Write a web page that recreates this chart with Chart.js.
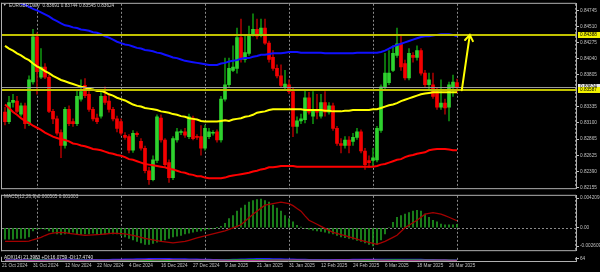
<!DOCTYPE html>
<html>
<head>
<meta charset="utf-8">
<script src="https://cdn.jsdelivr.net/npm/chart.js@4.4.1/dist/chart.umd.min.js"></script>
<style>
html, body { margin: 0; padding: 0; background: #000; }
#cadre { position: relative; width: 600px; height: 272px; background: #000; overflow: hidden; }
canvas { position: absolute; left: 0; }
</style>
</head>
<body>
<div id="cadre">
  <canvas id="prix" width="600" height="192" style="top:0px"></canvas>
  <canvas id="macd" width="600" height="62" style="top:192px"></canvas>
  <canvas id="adx" width="600" height="18" style="top:254px"></canvas>
</div>
<script>
// EURGBP Daily - bougies, moyennes, MACD et ADX

const dateLabels = ['21 Oct 2024', '31 Oct 2024', '12 Nov 2024', '22 Nov 2024', '4 Dec 2024',
    '16 Dec 2024', '27 Dec 2024', '9 Jan 2025', '21 Jan 2025', '31 Jan 2025', '12 Feb 2025',
    '24 Feb 2025', '6 Mar 2025', '18 Mar 2025', '26 Mar 2025'];
const dateIdx = [0, 8, 16, 24, 32, 40, 48, 56, 64, 72, 80, 88, 96, 104, 112];
const gridIdx = [8, 29, 50, 71, 92, 113, 142.5];

const priceTicks = [0.82155, 0.82390, 0.82625, 0.82865, 0.83100, 0.83335,
    0.83805, 0.84040, 0.84275, 0.84510, 0.84745];
const macdTicks = [-0.002609, 0, 0.004209];
const macdTickLabels = ['-0.002609', '0.00', '0.004209'];

const niveaux = [0.84388, 0.83587];
const flecheX = [114.2, 116.2];
const flecheY = [0.8358, 0.8439];

const opens = [
    .8326, .8312, .8340, .8342, .8323, .8335, .8309, .8370, .8436, .8377,
    .8392, .8377, .8327, .8316, .8296, .8277, .8330, .8312, .8309, .8345,
    .8365, .8352, .8330, .8317, .8320, .8349, .8342, .8330, .8316, .8312,
    .8292, .8290, .8270, .8295, .8283, .8273, .8240, .8227, .8255, .8317,
    .8285, .8252, .8230, .8285, .8296, .8297, .8290, .8317, .8290, .8290,
    .8273, .8290, .8295, .8297, .8285, .8345, .8366, .8387, .8390, .8435,
    .8403, .8412, .8440, .8447, .8440, .8449, .8427, .8406, .8390, .8379,
    .8363, .8366, .8356, .8305, .8313, .8315, .8347, .8320, .8330, .8320,
    .8340, .8326, .8335, .8302, .8280, .8277, .8285, .8283, .8289, .8297,
    .8269, .8255, .8255, .8256, .8299, .8363, .8369, .8387, .8409, .8426,
    .8397, .8376, .8409, .8406, .8416, .8383, .8366, .8366, .8356, .8333,
    .8339, .8333, .8362, .83691];
const highs = [
    .8333, .8349, .8352, .8349, .8339, .8339, .8379, .8447, .8442, .8419,
    .8397, .8380, .8330, .8320, .8300, .8333, .8335, .8316, .8359, .8373,
    .8375, .8356, .8333, .8323, .8355, .8363, .8352, .8333, .8320, .8316,
    .8296, .8293, .8299, .8297, .8287, .8276, .8245, .8262, .8322, .8322,
    .8287, .8256, .8290, .8302, .8300, .8302, .8323, .8320, .8293, .8306,
    .8307, .8302, .8299, .8300, .8349, .8405, .8405, .8423, .8449, .8462,
    .8437, .8452, .8470, .8462, .8462, .8462, .8430, .8416, .8395, .8395,
    .8387, .8373, .8362, .8319, .8323, .8359, .8355, .8356, .8352, .8352,
    .8356, .8340, .8339, .8305, .8287, .8290, .8290, .8295, .8302, .8300,
    .8273, .8262, .8273, .8305, .8366, .8412, .8416, .8423, .8449, .8440,
    .8402, .8419, .8413, .8423, .8419, .8387, .8383, .8383, .8362, .8373,
    .8345, .8370, .8380, .83744];
const lows = [
    .8307, .8309, .8333, .8325, .8320, .8302, .8306, .8367, .8352, .8375,
    .8375, .8325, .8309, .8292, .8259, .8273, .8306, .8305, .8306, .8342,
    .8347, .8327, .8313, .8309, .8317, .8337, .8326, .8313, .8297, .8292,
    .8286, .8266, .8267, .8290, .8270, .8237, .8220, .8225, .8252, .8282,
    .8246, .8223, .8227, .8282, .8293, .8289, .8287, .8285, .8286, .8263,
    .8270, .8287, .8292, .8282, .8282, .8342, .8363, .8385, .8383, .8399,
    .8399, .8409, .8437, .8433, .8436, .8425, .8399, .8387, .8376, .8362,
    .8359, .8353, .8290, .8295, .8309, .8310, .8323, .8309, .8316, .8317,
    .8320, .8323, .8299, .8277, .8266, .8273, .8266, .8277, .8286, .8266,
    .8242, .8245, .8247, .8253, .8296, .8360, .8366, .8385, .8406, .8387,
    .8373, .8373, .8399, .8402, .8380, .8362, .8359, .8346, .8330, .8330,
    .8323, .8313, .8349, .83545];
const closes = [
    .8312, .8340, .8343, .8327, .8335, .8309, .8373, .8436, .8385, .8392,
    .8377, .8327, .8316, .8295, .8277, .8330, .8309, .8309, .8349, .8356,
    .8350, .8330, .8316, .8312, .8349, .8340, .8330, .8316, .8302, .8295,
    .8289, .8270, .8295, .8293, .8273, .8240, .8227, .8256, .8319, .8285,
    .8249, .8230, .8287, .8297, .8297, .8292, .8319, .8287, .8289, .8273,
    .8302, .8297, .8296, .8285, .8345, .8366, .8390, .8392, .8435, .8403,
    .8413, .8440, .8447, .8437, .8449, .8427, .8403, .8390, .8379, .8365,
    .8367, .8356, .8305, .8313, .8316, .8347, .8326, .8330, .8326, .8340,
    .8326, .8335, .8302, .8280, .8277, .8285, .8277, .8289, .8297, .8269,
    .8249, .8252, .8259, .8302, .8363, .8383, .8383, .8412, .8426, .8392,
    .8376, .8412, .8406, .8416, .8383, .8366, .8373, .8349, .8333, .8339,
    .8332, .8366, .8370, .83624];

const maBleue = [
    .8495, .8493, .8490, .8487, .8485, .8483, .8480, .8477, .8475, .8472,
    .8469, .8466, .8462, .8459, .8456, .8453, .8452, .8450, .8449, .8447,
    .8446, .8445, .8443, .8442, .8440, .8437, .8435, .8432, .8429, .8427,
    .8425, .8424, .8422, .8420, .8419, .8417, .8416, .8415, .8413, .8412,
    .8410, .8408, .8406, .8405, .8403, .8401, .8400, .8399, .8398, .8397,
    .8396, .8395, .8395, .8395, .8397, .8398, .8400, .8401, .8402, .8404,
    .8405, .8405, .8407, .8408, .8410, .8410, .8411, .8412, .8412, .8412,
    .8413, .8414, .8414, .8414, .8413, .8413, .8413, .8413, .8413, .8413,
    .8412, .8412, .8412, .8412, .8412, .8412, .8412, .8412, .8413, .8413,
    .8413, .8413, .8413, .8413, .8414, .8416, .8419, .8422, .8424, .8426,
    .8428, .8430, .8432, .8434, .8436, .8437, .8437, .8438, .8439, .8440,
    .8440, .8440, .8439, .8437];
const maJaune = [
    .8423, .8419, .8416, .8412, .8409, .8405, .8402, .8397, .8393, .8390,
    .8386, .8383, .8379, .8376, .8373, .8371, .8369, .8367, .8365, .8363,
    .8362, .8360, .8359, .8357, .8357, .8355, .8352, .8350, .8347, .8345,
    .8343, .8340, .8337, .8335, .8334, .8332, .8331, .8330, .8329, .8327,
    .8326, .8325, .8323, .8322, .8320, .8319, .8317, .8316, .8315, .8313,
    .8312, .8312, .8312, .8312, .8313, .8314, .8313, .8315, .8316, .8317,
    .8319, .8320, .8322, .8325, .8326, .8327, .8329, .8330, .8330, .8330,
    .8330, .8330, .8330, .8330, .8330, .8329, .8329, .8329, .8329, .8329,
    .8328, .8328, .8327, .8327, .8327, .8328, .8328, .8329, .8329, .8329,
    .8329, .8329, .8330, .8330, .8332, .8334, .8336, .8337, .8339, .8342,
    .8344, .8346, .8348, .8350, .8352, .8353, .8354, .8355, .8355, .8355,
    .8355, .8355, .8355, .8355];
const maRouge = [
    .8337, .8332, .8326, .8322, .8317, .8313, .8310, .8306, .8303, .8300,
    .8296, .8293, .8290, .8288, .8286, .8285, .8283, .8280, .8279, .8277,
    .8276, .8274, .8272, .8271, .8270, .8268, .8266, .8265, .8263, .8262,
    .8260, .8257, .8256, .8254, .8252, .8250, .8249, .8248, .8247, .8246,
    .8245, .8243, .8242, .8240, .8238, .8237, .8235, .8234, .8232, .8232,
    .8230, .8229, .8229, .8229, .8229, .8230, .8232, .8233, .8234, .8235,
    .8236, .8237, .8239, .8240, .8242, .8243, .8245, .8245, .8246, .8247,
    .8247, .8247, .8247, .8246, .8246, .8246, .8246, .8246, .8246, .8246,
    .8246, .8246, .8246, .8246, .8246, .8246, .8246, .8246, .8246, .8246,
    .8246, .8246, .8246, .8247, .8249, .8250, .8252, .8254, .8256, .8257,
    .8260, .8262, .8263, .8265, .8266, .8267, .8270, .8271, .8272, .8272,
    .8272, .8271, .8270, .8270];

const macdHisto = [
    -0.00163, -0.00163, -0.00163, -0.00150, -0.00150, -0.00150, -0.00129, -0.00043, -0.00021, -0.00013,
    -0.00021, -0.00043, -0.00064, -0.00086, -0.00094, -0.00086, -0.00077, -0.00064, -0.00086, -0.00094,
    -0.00086, -0.00086, -0.00077, -0.00086, -0.00094, -0.00086, -0.00077, -0.00086, -0.00086, -0.00107,
    -0.00129, -0.00150, -0.00172, -0.00193, -0.00215, -0.00236, -0.00236, -0.00223, -0.00206, -0.00193,
    -0.00172, -0.00150, -0.00129, -0.00120, -0.00107, -0.00086, -0.00077, -0.00064, -0.00051, -0.00043,
    -0.00034, -0.00021, -0.00013, 0.00002, 0.00021, 0.00064, 0.00129, 0.00172, 0.00236, 0.00279,
    0.00322, 0.00365, 0.00386, 0.00399, 0.00408, 0.00386, 0.00365, 0.00322, 0.00279, 0.00236,
    0.00172, 0.00129, 0.00086, 0.00034, 0.00009, -0.00009, -0.00021, -0.00034, -0.00043, -0.00051,
    -0.00064, -0.00077, -0.00086, -0.00107, -0.00129, -0.00142, -0.00150, -0.00163, -0.00180, -0.00193,
    -0.00215, -0.00236, -0.00257, -0.00236, -0.00172, -0.00086, 0.00000, 0.00077, 0.00150, 0.00172,
    0.00193, 0.00215, 0.00236, 0.00249, 0.00236, 0.00193, 0.00150, 0.00107, 0.00086, 0.00051,
    0.00043, 0.00043, 0.00043, 0.000505];
const macdSignal = [
    -0.00193, -0.00193, -0.00193, -0.00193, -0.00193, -0.00193, -0.00190, -0.00170, -0.00155, -0.00137,
    -0.00110, -0.00086, -0.00075, -0.00068, -0.00064, -0.00070, -0.00078, -0.00086, -0.00093, -0.00100,
    -0.00107, -0.00104, -0.00100, -0.00097, -0.00094, -0.00088, -0.00082, -0.00077, -0.00080, -0.00083,
    -0.00086, -0.00096, -0.00107, -0.00121, -0.00135, -0.00150, -0.00160, -0.00172, -0.00183, -0.00193,
    -0.00200, -0.00208, -0.00215, -0.00208, -0.00200, -0.00193, -0.00177, -0.00161, -0.00145, -0.00129,
    -0.00115, -0.00100, -0.00086, -0.00072, -0.00057, -0.00043, -0.00022, 0.00000, 0.00021, 0.00043,
    0.00093, 0.00143, 0.00193, 0.00236, 0.00279, 0.00322, 0.00333, 0.00344, 0.00355, 0.00365,
    0.00354, 0.00343, 0.00315, 0.00275, 0.00236, 0.00170, 0.00107, 0.00078, 0.00050, 0.00021,
    -0.00008, -0.00036, -0.00064, -0.00080, -0.00096, -0.00113, -0.00129, -0.00145, -0.00161, -0.00177,
    -0.00193, -0.00207, -0.00222, -0.00236, -0.00215, -0.00193, -0.00164, -0.00136, -0.00107, -0.00054,
    0.00000, 0.00036, 0.00071, 0.00107, 0.00150, 0.00193, 0.00204, 0.00215, 0.00204, 0.00193,
    0.00172, 0.00150, 0.00125, 0.001003];

const adxMain = [
    28, 28, 27, 27, 26, 27, 28, 30, 32, 33, 33, 34, 35, 36, 38, 38, 38, 37, 36, 35,
    34, 33, 33, 33, 34, 35, 36, 38, 40, 42, 44, 46, 48, 50, 52, 54, 56, 57, 58, 58,
    57, 56, 55, 54, 52, 50, 48, 46, 44, 42, 40, 38, 36, 35, 34, 35, 37, 40, 43, 46,
    49, 52, 54, 56, 57, 57, 56, 55, 53, 51, 49, 47, 45, 43, 41, 39, 37, 36, 35, 34,
    33, 33, 33, 34, 35, 36, 37, 38, 39, 40, 41, 42, 43, 43, 42, 41, 40, 40, 40, 41,
    42, 42, 41, 40, 38, 36, 34, 32, 30, 28, 26, 24, 22, 21.4];
const plusDI = [
    18, 17, 17, 16, 16, 16, 22, 30, 28, 27, 26, 22, 20, 18, 16, 20, 19, 18, 22, 23,
    22, 20, 18, 17, 19, 18, 17, 16, 15, 14, 14, 13, 15, 14, 13, 12, 11, 15, 17, 15,
    14, 13, 18, 18, 17, 16, 19, 18, 17, 16, 18, 18, 18, 17, 24, 27, 30, 31, 35, 33,
    33, 35, 36, 35, 35, 32, 29, 27, 25, 23, 23, 21, 18, 18, 18, 21, 20, 20, 19, 20,
    19, 19, 17, 16, 15, 16, 15, 16, 16, 14, 13, 13, 14, 20, 26, 29, 30, 32, 34, 31,
    29, 31, 30, 30, 27, 25, 25, 23, 21, 22, 21, 23, 22, 16.1];
const minusDI = [
    22, 21, 20, 21, 20, 22, 18, 15, 18, 17, 18, 22, 22, 24, 27, 23, 22, 22, 19, 18,
    19, 21, 23, 23, 20, 20, 21, 22, 24, 26, 26, 28, 27, 27, 29, 33, 35, 31, 30, 31,
    33, 35, 30, 29, 28, 28, 25, 27, 27, 29, 27, 26, 25, 26, 21, 19, 17, 16, 14, 17,
    16, 15, 14, 15, 15, 18, 20, 22, 24, 25, 24, 25, 29, 28, 27, 24, 24, 23, 23, 22,
    22, 21, 24, 26, 27, 26, 27, 26, 25, 28, 31, 31, 30, 26, 20, 18, 17, 15, 14, 17,
    19, 17, 18, 17, 20, 22, 21, 23, 25, 23, 24, 20, 19, 17.5];

const FONT = "'Liberation Sans', 'DejaVu Sans', sans-serif";
const GRIS = '#c0c0c0';
const CADRE = '#b0b0b0';

const pts = arr => arr.map((v, i) => ({ x: i, y: v }));
const haussier = closes.map((c, i) => c >= opens[i]);

function echelleX(visible) {
    return { type: 'linear', min: -0.75, max: 142.75, offset: false, display: visible };
}

function echelleY(min, max, valeurs, libelle) {
    return {
        position: 'right', min: min, max: max,
        afterFit(s) { s.width = 24; },
        afterBuildTicks(s) { s.ticks = valeurs.map(v => ({ value: v })); },
        ticks: { callback: libelle, color: GRIS, font: { family: FONT, size: 4.7 }, padding: 1, autoSkip: false },
        grid: { drawOnChartArea: false, drawTicks: true, tickLength: 3, color: GRIS },
        border: { display: true, color: CADRE }
    };
}

// cadre des panneaux et lignes verticales pointillées
const regles = {
    id: 'regles',
    beforeDatasetsDraw(chart) {
        const { ctx, chartArea: a, scales } = chart;
        ctx.save();
        ctx.strokeStyle = '#8a8a8a';
        ctx.lineWidth = 1;
        ctx.setLineDash([2, 2]);
        gridIdx.forEach(i => {
            const px = Math.round(scales.x.getPixelForValue(i)) + 0.5;
            ctx.beginPath(); ctx.moveTo(px, a.top); ctx.lineTo(px, a.bottom); ctx.stroke();
        });
        ctx.restore();
    },
    afterDraw(chart, args, opts) {
        const { ctx, chartArea: a } = chart;
        ctx.save();
        ctx.strokeStyle = CADRE;
        ctx.lineWidth = 1;
        ctx.beginPath();
        if (opts.haut) { ctx.moveTo(a.left - 1, a.top - 0.5); ctx.lineTo(a.right, a.top - 0.5); }
        ctx.moveTo(a.left - 0.5, a.top - 1); ctx.lineTo(a.left - 0.5, a.bottom + 1);
        ctx.moveTo(a.left - 1, a.bottom + 0.5); ctx.lineTo(a.right, a.bottom + 0.5);
        ctx.stroke();
        if (opts.texte) {
            ctx.font = `4.7px ${FONT}`;
            ctx.fillStyle = opts.couleur || GRIS;
            ctx.textBaseline = 'middle';
            ctx.fillText(opts.texte, opts.tx, opts.ty);
        }
        ctx.restore();
    }
};

// niveaux, ligne du bid, flèche, étiquettes de droite, titre
const traces = {
    id: 'traces',
    afterDatasetsDraw(chart) {
        const { ctx, chartArea: a, scales: { x, y } } = chart;
        const bid = closes[closes.length - 1];
        ctx.save();
        ctx.strokeStyle = '#9a9a9a';
        ctx.lineWidth = 1;
        let py = Math.round(y.getPixelForValue(bid)) + 0.5;
        ctx.beginPath(); ctx.moveTo(a.left, py); ctx.lineTo(a.right, py); ctx.stroke();

        ctx.strokeStyle = '#c2c200';
        ctx.lineWidth = 2;
        niveaux.forEach(v => {
            const p = Math.round(y.getPixelForValue(v));
            ctx.beginPath(); ctx.moveTo(a.left, p); ctx.lineTo(a.right, p); ctx.stroke();
        });

        const x0 = x.getPixelForValue(flecheX[0]), y0 = y.getPixelForValue(flecheY[0]);
        const x1 = x.getPixelForValue(flecheX[1]), y1 = y.getPixelForValue(flecheY[1]);
        const ang = Math.atan2(y1 - y0, x1 - x0);
        ctx.strokeStyle = '#ffff00';
        ctx.lineWidth = 2;
        ctx.lineCap = 'round';
        ctx.beginPath();
        ctx.moveTo(x0, y0); ctx.lineTo(x1, y1);
        ctx.moveTo(x1 - 7 * Math.cos(ang - 0.6), y1 - 7 * Math.sin(ang - 0.6));
        ctx.lineTo(x1, y1);
        ctx.lineTo(x1 - 7 * Math.cos(ang + 0.6), y1 - 7 * Math.sin(ang + 0.6));
        ctx.stroke();
        ctx.restore();
    },
    afterDraw(chart) {
        const { ctx, scales: { y } } = chart;
        const bid = closes[closes.length - 1];
        ctx.save();
        ctx.font = `4.7px ${FONT}`;
        ctx.textBaseline = 'middle';
        const boite = (v, fond) => {
            const p = y.getPixelForValue(v);
            ctx.fillStyle = fond;
            ctx.fillRect(578, Math.round(p) - 3, 22, 6);
            ctx.fillStyle = '#000';
            ctx.fillText(v.toFixed(5), 580, Math.round(p) + 0.2);
        };
        boite(bid, '#e6e6e6');
        niveaux.forEach(v => boite(v, '#f2f200'));

        ctx.fillStyle = '#d0d0d0';
        ctx.font = `3.5px ${FONT}`;
        ctx.fillText('\u25BC', 3, 5.3);
        ctx.font = `4.7px ${FONT}`;
        ctx.fillText('EURGBP,Daily  0.83691 0.83744 0.83545 0.83624', 9, 5.3);
        ctx.restore();
    }
};

new Chart(document.getElementById('prix'), {
    type: 'bar',
    data: {
        datasets: [
            { type: 'line', data: pts(maBleue), borderColor: '#1010ff', borderWidth: 2, pointRadius: 0, order: 0 },
            { type: 'line', data: pts(maJaune), borderColor: '#ffff00', borderWidth: 2, pointRadius: 0, order: 0 },
            { type: 'line', data: pts(maRouge), borderColor: '#ff0000', borderWidth: 2, pointRadius: 0, order: 0 },
            {
                data: opens.map((o, i) => ({ x: i, y: [o, closes[i]] })),
                backgroundColor: haussier.map(h => h ? '#2ed22e' : '#f40000'),
                barThickness: 3, minBarLength: 1, grouped: false, order: 1
            },
            {
                data: lows.map((l, i) => ({ x: i, y: [l, highs[i]] })),
                backgroundColor: haussier.map(h => h ? '#0f8c0f' : '#a00000'),
                barThickness: 1, grouped: false, order: 2
            }
        ]
    },
    options: {
        responsive: false, animation: false, events: [],
        layout: { padding: { left: 2, top: 2, right: 0, bottom: 1 } },
        plugins: { legend: { display: false }, tooltip: { enabled: false }, regles: { haut: true } },
        scales: {
            x: echelleX(false),
            y: echelleY(0.82145, 0.84845, priceTicks, v => v.toFixed(5))
        }
    },
    plugins: [regles, traces]
});

const zero = {
    id: 'zero',
    beforeDatasetsDraw(chart) {
        const { ctx, chartArea: a, scales: { y } } = chart;
        const p = Math.round(y.getPixelForValue(0)) + 0.5;
        ctx.save();
        ctx.strokeStyle = '#8a8a8a';
        ctx.setLineDash([2, 2]);
        ctx.beginPath(); ctx.moveTo(a.left, p); ctx.lineTo(a.right, p); ctx.stroke();
        ctx.restore();
    }
};

new Chart(document.getElementById('macd'), {
    type: 'bar',
    data: {
        datasets: [
            { type: 'line', data: pts(macdSignal), borderColor: '#a40000', borderWidth: 1.3, pointRadius: 0, order: 0 },
            { data: pts(macdHisto), backgroundColor: '#1f961f', barThickness: 1, grouped: false, order: 1 }
        ]
    },
    options: {
        responsive: false, animation: false, events: [],
        layout: { padding: { left: 2, top: 1, right: 0, bottom: 1 } },
        plugins: {
            legend: { display: false }, tooltip: { enabled: false },
            regles: { haut: true, texte: 'MACD(12,26,9) 0.000505 0.001003', tx: 4, ty: 5 }
        },
        scales: {
            x: echelleX(false),
            y: echelleY(-0.00318, 0.00454, macdTicks, (v, i) => macdTickLabels[i])
        }
    },
    plugins: [regles, zero]
});

const xDates = echelleX(true);
xDates.grid = { display: false, drawTicks: false, tickLength: 0 };
xDates.border = { display: false };
xDates.afterFit = s => { s.height = 11; };
xDates.afterBuildTicks = s => { s.ticks = dateIdx.map(i => ({ value: Math.max(i - 1, -0.75) })); };
xDates.ticks = {
    callback: (v, i) => dateLabels[i], align: 'start', padding: 1.5, maxRotation: 0, autoSkip: false,
    color: GRIS, font: { family: FONT, size: 4.7 }
};

new Chart(document.getElementById('adx'), {
    type: 'line',
    data: {
        datasets: [
            { data: pts(minusDI), borderColor: '#c03aa0', borderWidth: 1, pointRadius: 0 },
            { data: pts(plusDI), borderColor: '#10b010', borderWidth: 1, pointRadius: 0 },
            { data: pts(adxMain), borderColor: '#2020ff', borderWidth: 1.3, pointRadius: 0 }
        ]
    },
    options: {
        responsive: false, animation: false, events: [],
        layout: { padding: { left: 2, top: 0, right: 0, bottom: 0 } },
        plugins: {
            legend: { display: false }, tooltip: { enabled: false },
            regles: { haut: false, texte: 'ADX(14) 21.3983 +DI:16.0759 -DI:17.4740', tx: 4, ty: 3.5, couleur: '#e6e6e6' }
        },
        scales: {
            x: xDates,
            y: echelleY(0, 80, [64], () => '64')
        }
    },
    plugins: [regles]
});
</script>
</body>
</html>
